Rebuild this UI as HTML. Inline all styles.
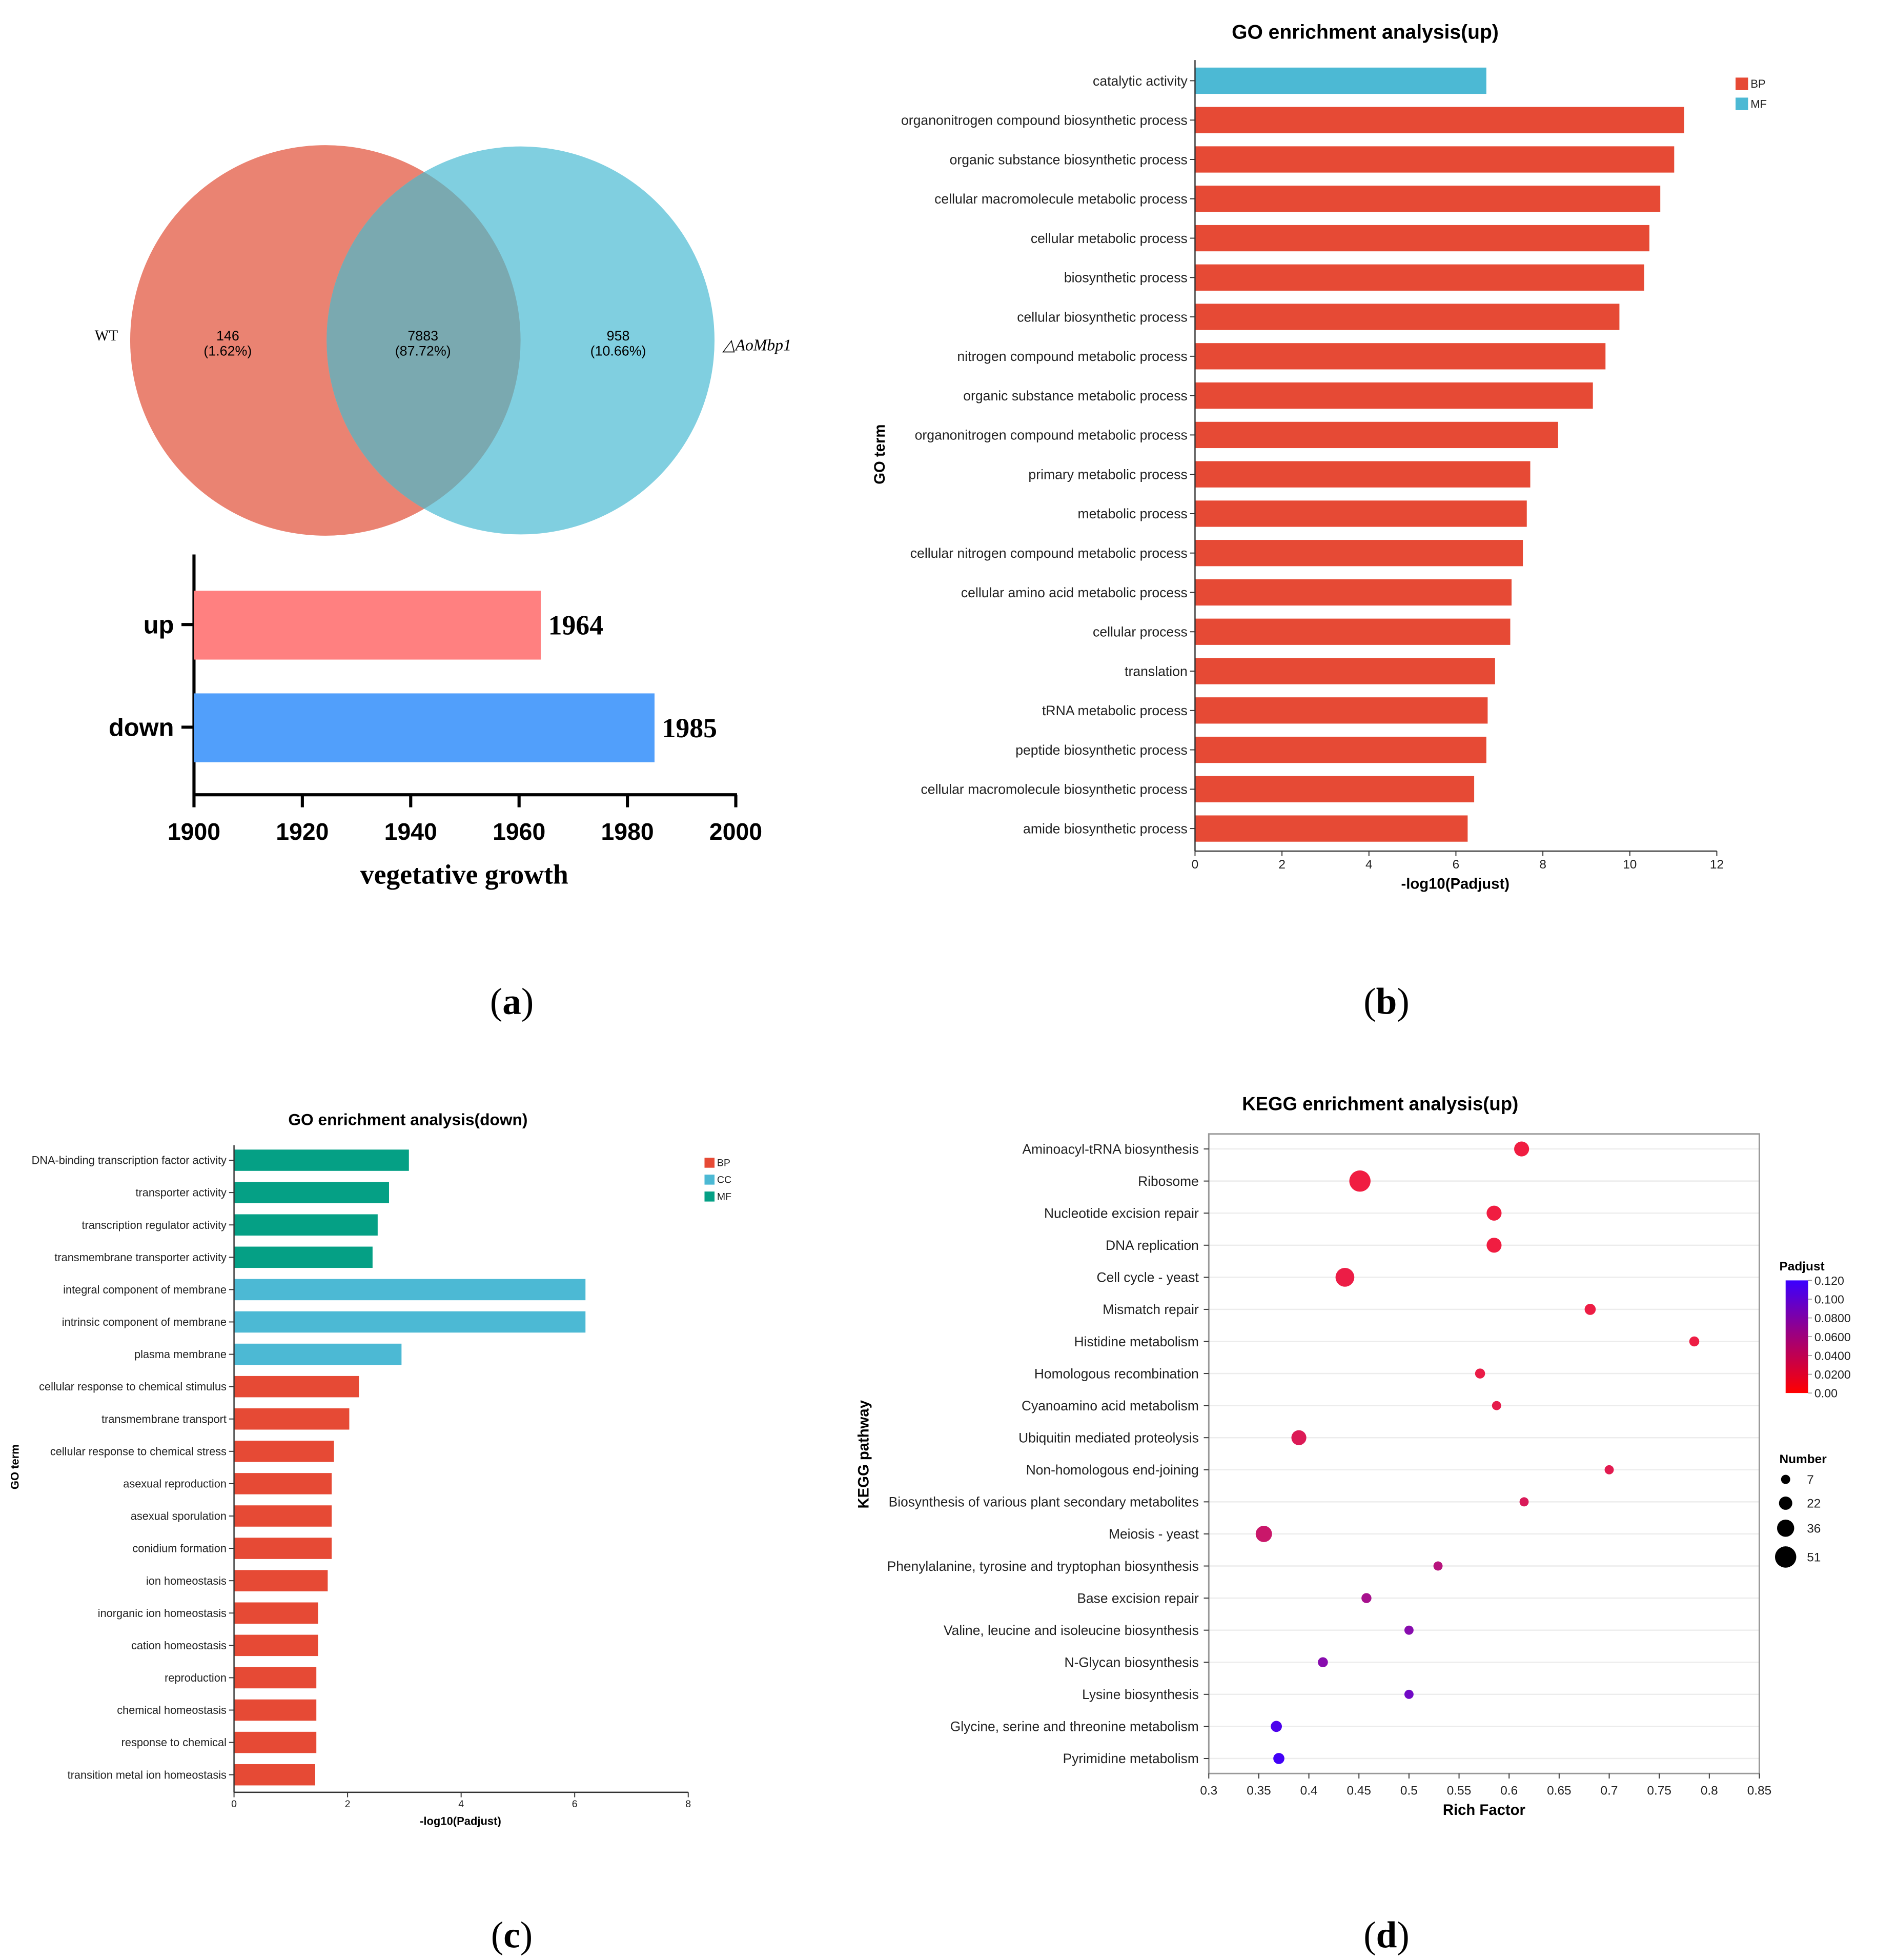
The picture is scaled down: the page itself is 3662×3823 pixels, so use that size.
<!DOCTYPE html>
<html><head><meta charset="utf-8"><style>
html,body{margin:0;padding:0;background:#fff;}
svg{display:block;}
text{font-family:"Liberation Sans",sans-serif;}
.serif{font-family:"Liberation Serif",serif;}
</style></head><body>
<svg id="root" xmlns="http://www.w3.org/2000/svg" width="3662" height="3823" viewBox="0 0 1500 1566">
<rect width="1500" height="1566" fill="#fff"/>
<defs>
<clipPath id="clipRed"><circle cx="260" cy="272" r="156"/></clipPath>
<linearGradient id="padjGrad" x1="0" y1="1" x2="0" y2="0">
<stop offset="0" stop-color="#ff0000"/><stop offset="0.5" stop-color="#a0007a"/><stop offset="1" stop-color="#3a00ff"/>
</linearGradient>
</defs>
<g>
<circle cx="260" cy="272" r="156" fill="#ea8372"/>
<circle cx="416" cy="272" r="155" fill="#80cfe0"/>
<circle cx="416" cy="272" r="155" fill="#7aa9b0" clip-path="url(#clipRed)"/>
<text class="serif" x="85" y="272" font-size="12" text-anchor="middle">WT</text>
<text class="serif" x="605" y="280" font-size="13" font-style="italic" text-anchor="middle">△AoMbp1</text>
<text x="182" y="272" font-size="11" text-anchor="middle">146</text>
<text x="182" y="284" font-size="11" text-anchor="middle">(1.62%)</text>
<text x="338" y="272" font-size="11" text-anchor="middle">7883</text>
<text x="338" y="284" font-size="11" text-anchor="middle">(87.72%)</text>
<text x="494" y="272" font-size="11" text-anchor="middle">958</text>
<text x="494" y="284" font-size="11" text-anchor="middle">(10.66%)</text>
</g>
<g id="pa"></g>
<g id="pb"></g>
<g id="pc"></g>
<g id="pd"></g>
<text class="serif" x="409" y="810" font-size="30" text-anchor="middle">(<tspan font-weight="bold">a</tspan>)</text>
<text class="serif" x="1108" y="810" font-size="30" text-anchor="middle">(<tspan font-weight="bold">b</tspan>)</text>
<text class="serif" x="409" y="1556" font-size="30" text-anchor="middle">(<tspan font-weight="bold">c</tspan>)</text>
<text class="serif" x="1108" y="1556" font-size="30" text-anchor="middle">(<tspan font-weight="bold">d</tspan>)</text>
</svg>
<script>
const aCats=["up","down"];
const aVals=[1964,1985];
const aTicks=[1900,1920,1940,1960,1980,2000];

const bCats=["catalytic activity","organonitrogen compound biosynthetic process","organic substance biosynthetic process","cellular macromolecule metabolic process","cellular metabolic process","biosynthetic process","cellular biosynthetic process","nitrogen compound metabolic process","organic substance metabolic process","organonitrogen compound metabolic process","primary metabolic process","metabolic process","cellular nitrogen compound metabolic process","cellular amino acid metabolic process","cellular process","translation","tRNA metabolic process","peptide biosynthetic process","cellular macromolecule biosynthetic process","amide biosynthetic process"];
const bVals=[6.7,11.25,11.02,10.7,10.45,10.33,9.76,9.44,9.15,8.35,7.71,7.63,7.54,7.28,7.25,6.9,6.73,6.7,6.42,6.27];
const bGroups=["MF","BP","BP","BP","BP","BP","BP","BP","BP","BP","BP","BP","BP","BP","BP","BP","BP","BP","BP","BP"];
const bTicks=[0,2,4,6,8,10,12];

const cCats=["DNA-binding transcription factor activity","transporter activity","transcription regulator activity","transmembrane transporter activity","integral component of membrane","intrinsic component of membrane","plasma membrane","cellular response to chemical stimulus","transmembrane transport","cellular response to chemical stress","asexual reproduction","asexual sporulation","conidium formation","ion homeostasis","inorganic ion homeostasis","cation homeostasis","reproduction","chemical homeostasis","response to chemical","transition metal ion homeostasis"];
const cVals=[3.08,2.73,2.53,2.44,6.19,6.19,2.95,2.2,2.03,1.76,1.72,1.72,1.72,1.65,1.48,1.48,1.45,1.45,1.45,1.43];
const cGroups=["MF","MF","MF","MF","CC","CC","CC","BP","BP","BP","BP","BP","BP","BP","BP","BP","BP","BP","BP","BP"];
const cTicks=[0,2,4,6,8];

const dCats=["Aminoacyl-tRNA biosynthesis","Ribosome","Nucleotide excision repair","DNA replication","Cell cycle - yeast","Mismatch repair","Histidine metabolism","Homologous recombination","Cyanoamino acid metabolism","Ubiquitin mediated proteolysis","Non-homologous end-joining","Biosynthesis of various plant secondary metabolites","Meiosis - yeast","Phenylalanine, tyrosine and tryptophan biosynthesis","Base excision repair","Valine, leucine and isoleucine biosynthesis","N-Glycan biosynthesis","Lysine biosynthesis","Glycine, serine and threonine metabolism","Pyrimidine metabolism"];
const dRich=[0.6125,0.451,0.585,0.585,0.436,0.681,0.785,0.571,0.5875,0.39,0.70,0.615,0.355,0.529,0.4575,0.50,0.414,0.50,0.3675,0.37];
const dNumber=[28,51,28,28,42,14,10,10,7,28,7,7,33,7,10,7,10,7,14,14];
const dPadj=[0.003,0.003,0.003,0.003,0.006,0.005,0.005,0.007,0.01,0.016,0.012,0.018,0.028,0.04,0.05,0.07,0.07,0.085,0.108,0.115];
const dTicks=[0.3,0.35,0.4,0.45,0.5,0.55,0.6,0.65,0.7,0.75,0.8,0.85];
const padjTicks=["0.120","0.100","0.0800","0.0600","0.0400","0.0200","0.00"];
const numLegend=[7,22,36,51];

const NS="http://www.w3.org/2000/svg";
function mk(parent,tag,attrs,txt){const e=document.createElementNS(NS,tag);for(const k in attrs)e.setAttribute(k,attrs[k]);if(txt!==undefined)e.textContent=txt;parent.appendChild(e);return e;}

(function(){
const g=document.getElementById('pa');
const x=v=>155+(v-1900)*(588-155)/100;
const ys=[499,581];
mk(g,'line',{x1:155,y1:443,x2:155,y2:635,stroke:'#000','stroke-width':2.5});
mk(g,'line',{x1:154,y1:635,x2:589,y2:635,stroke:'#000','stroke-width':2.5});
const cols=["#ff8080","#519ffb"];
aCats.forEach((c,i)=>{
const r=mk(g,'rect',{x:155,y:ys[i]-27,width:x(aVals[i])-155,height:55,fill:cols[i]});


mk(g,'line',{x1:145,y1:ys[i],x2:155,y2:ys[i],stroke:'#000','stroke-width':2.5});
const t=mk(g,'text',{x:139,y:ys[i]+7,'font-size':20,'font-weight':'bold','text-anchor':'end'},c);


const v=mk(g,'text',{x:x(aVals[i])+6,y:ys[i]+8,'font-size':22,'font-weight':'bold',class:'serif'},aVals[i]);


});
aTicks.forEach(t=>{
mk(g,'line',{x1:x(t),y1:635,x2:x(t),y2:645,stroke:'#000','stroke-width':2.5});
const e=mk(g,'text',{x:x(t),y:671,'font-size':19,'font-weight':'bold','text-anchor':'middle'},t);


});
const xl=mk(g,'text',{x:371,y:706,'font-size':22,'font-weight':'bold','text-anchor':'middle',class:'serif'},'vegetative growth');


})();

function goChart(g,cats,vals,groups,ticks,o){
const x=v=>o.x0+v*(o.x1-o.x0)/ticks[ticks.length-1];
const y=i=>o.y0+i*(o.yN-o.y0)/(cats.length-1);
const tt=mk(g,'text',{x:o.tx,y:o.ty,'font-size':o.tfs,'font-weight':'bold','text-anchor':'middle'},o.title);


cats.forEach((c,i)=>{
const r=mk(g,'rect',{x:o.x0,y:y(i)-o.bh/2,width:x(vals[i])-o.x0,height:o.bh,fill:o.colors[groups[i]]});


mk(g,'line',{x1:o.x0-4,y1:y(i),x2:o.x0,y2:y(i),stroke:'#333','stroke-width':0.8});
const t=mk(g,'text',{x:o.x0-6,y:y(i)+o.lfs*0.35,'font-size':o.lfs,'text-anchor':'end',fill:'#222'},c);


});
mk(g,'line',{x1:o.x0,y1:o.axTop,x2:o.x0,y2:o.axY,stroke:'#333','stroke-width':1});
mk(g,'line',{x1:o.x0,y1:o.axY,x2:o.x1,y2:o.axY,stroke:'#333','stroke-width':1});
ticks.forEach(t=>{
mk(g,'line',{x1:x(t),y1:o.axY,x2:x(t),y2:o.axY+4,stroke:'#333','stroke-width':0.8});
const e=mk(g,'text',{x:x(t),y:o.axY+o.tkfs+4,'font-size':o.tkfs,'text-anchor':'middle',fill:'#222'},t);


});
const xl=mk(g,'text',{x:o.xlx,y:o.xly,'font-size':o.xlfs,'font-weight':'bold','text-anchor':'middle'},'-log10(Padjust)');


const yl=mk(g,'text',{x:o.ylx,y:o.yly,'font-size':o.xlfs,'font-weight':'bold','text-anchor':'middle',transform:'rotate(-90 '+o.ylx+' '+o.yly+')'},'GO term');


o.legend.forEach((k,i)=>{
const ly=o.legY+i*o.legStep;
const r=mk(g,'rect',{x:o.legX,y:ly-o.legS/2,width:o.legS,height:o.legS,fill:o.colors[k]});


const t=mk(g,'text',{x:o.legX+o.legS+2,y:ly+o.legFs*0.35,'font-size':o.legFs,fill:'#222'},k);


});
}
goChart(document.getElementById('pb'),bCats,bVals,bGroups,bTicks,{x0:955,x1:1372,y0:64.5,yN:662,bh:21,axTop:48,axY:680,lfs:10.9,tkfs:10,title:'GO enrichment analysis(up)',tx:1091,ty:31,tfs:16,xlx:1163,xly:710,xlfs:12,ylx:707,yly:363,colors:{BP:"#e64a35",MF:"#4cb9d4"},legend:["BP","MF"],legX:1387,legY:67,legStep:16,legS:10,legFs:9});
goChart(document.getElementById('pc'),cCats,cVals,cGroups,cTicks,{x0:187,x1:550,y0:927,yN:1418,bh:17,axTop:915,axY:1432,lfs:8.9,tkfs:8,title:'GO enrichment analysis(down)',tx:326,ty:899,tfs:13,xlx:368,xly:1458,xlfs:9,ylx:15,yly:1172,colors:{BP:"#e64a35",CC:"#4cb9d4",MF:"#05a085"},legend:["BP","CC","MF"],legX:563,legY:929,legStep:13.5,legS:8,legFs:8});

(function(){
const g=document.getElementById('pd');
const X0=966,X1=1406,Y0=906,Y1=1417;
const x=v=>X0+(v-0.3)*(X1-X0)/0.55;
const y=i=>918+i*(1405-918)/(dCats.length-1);
const rad=n=>2.9+0.11*n;
function col(p){const t=Math.min(1,p/0.12);const r=Math.round(245-(245-58)*t),b=Math.round(60+195*t),gg=Math.round(30*(1-t));return 'rgb('+r+','+gg+','+b+')';}
const tt=mk(g,'text',{x:1103,y:887,'font-size':15,'font-weight':'bold','text-anchor':'middle'},'KEGG enrichment analysis(up)');


dCats.forEach((c,i)=>{
mk(g,'line',{x1:X0,y1:y(i),x2:X1,y2:y(i),stroke:'#ececec','stroke-width':1});
});
mk(g,'rect',{x:X0,y:Y0,width:X1-X0,height:Y1-Y0,fill:'none',stroke:'#999','stroke-width':1.2});
dCats.forEach((c,i)=>{
mk(g,'line',{x1:X0-4,y1:y(i),x2:X0,y2:y(i),stroke:'#333','stroke-width':0.8});
const t=mk(g,'text',{x:X0-8,y:y(i)+3.8,'font-size':10.8,'text-anchor':'end',fill:'#222'},c);


const p=mk(g,'circle',{cx:x(dRich[i]),cy:y(i),r:rad(dNumber[i]),fill:col(dPadj[i])});


});
dTicks.forEach(t=>{
mk(g,'line',{x1:x(t),y1:Y1,x2:x(t),y2:Y1+4,stroke:'#333','stroke-width':0.8});
const e=mk(g,'text',{x:x(t),y:Y1+17,'font-size':10,'text-anchor':'middle',fill:'#222'},t);


});
const xl=mk(g,'text',{x:1186,y:1450,'font-size':12,'font-weight':'bold','text-anchor':'middle'},'Rich Factor');


const yl=mk(g,'text',{x:694,y:1162,'font-size':12,'font-weight':'bold','text-anchor':'middle',transform:'rotate(-90 694 1162)'},'KEGG pathway');


const lt=mk(g,'text',{x:1422,y:1015,'font-size':10,'font-weight':'bold'},'Padjust');


const cb=mk(g,'rect',{x:1427,y:1023,width:18,height:90,fill:'url(#padjGrad)'});


padjTicks.forEach((t,i)=>{
const yy=1023+i*15;
mk(g,'line',{x1:1445,y1:yy,x2:1448,y2:yy,stroke:'#888','stroke-width':0.6});
const e=mk(g,'text',{x:1450,y:yy+3.5,'font-size':9.5,fill:'#222'},t);


});
const nt=mk(g,'text',{x:1422,y:1169,'font-size':10,'font-weight':'bold'},'Number');


const ly=[1182,1201,1221,1244];
numLegend.forEach((n,i)=>{
const c=mk(g,'circle',{cx:1427,cy:ly[i],r:rad(n),fill:'#000'});


const t=mk(g,'text',{x:1444,y:ly[i]+3.5,'font-size':10,fill:'#222'},n);


});
})();
</script>
</body></html>
